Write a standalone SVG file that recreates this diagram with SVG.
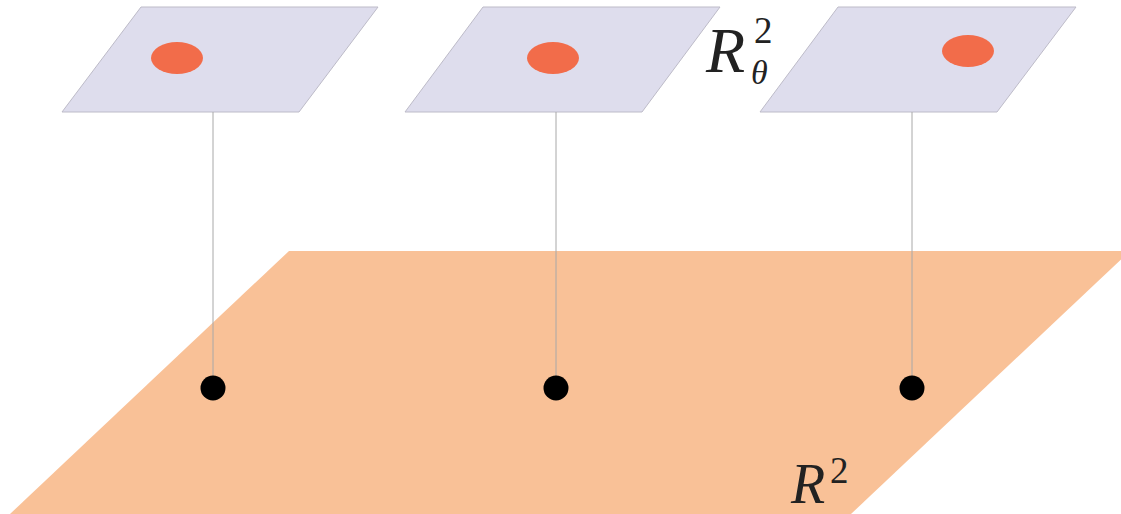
<svg xmlns="http://www.w3.org/2000/svg" width="1121" height="514" viewBox="0 0 1121 514">
<style>
.panel{fill:#dedded;stroke:#bdbbc8;stroke-width:1}
.blob{fill:#f26c4a}
.conn{stroke:#a8a8a8;stroke-width:1;fill:none}
.dot{fill:#000}
.math{font-family:"Liberation Serif",serif;font-style:italic;fill:#222}
.num{font-family:"Liberation Serif",serif;fill:#222}
</style>
<rect width="1121" height="514" fill="#fff"/>
<g id="plane">
<polygon points="289,251 1130,251 851,514 10,514" fill="#f9c197"/>
<text class="math" x="791" y="503" font-size="56">R</text>
<text class="num" x="830" y="483" font-size="37">2</text>
</g>
<g id="panel1">
<polygon class="panel" points="141,7 378,7 299,112 62,112"/>
<ellipse class="blob" cx="177" cy="58" rx="26" ry="16"/>
</g>
<g id="panel2">
<polygon class="panel" points="483,7 720,7 642,112 405,112"/>
<ellipse class="blob" cx="553" cy="58" rx="26" ry="16"/>
</g>
<g id="panel3">
<polygon class="panel" points="838,7 1076,7 997,112 760,112"/>
<ellipse class="blob" cx="968" cy="51" rx="26" ry="16"/>
</g>
<g id="label-theta">
<text class="math" x="706" y="72" font-size="64">R</text>
<text class="num" x="754" y="43" font-size="37">2</text>
<text class="math" x="751" y="84" font-size="34">θ</text>
</g>
<g id="connectors">
<line class="conn" x1="213" y1="112" x2="213" y2="388"/>
<line class="conn" x1="556" y1="112" x2="556" y2="388"/>
<line class="conn" x1="912" y1="112" x2="912" y2="388"/>
</g>
<g id="dot1"><circle class="dot" cx="213" cy="388" r="12.5"/></g>
<g id="dot2"><circle class="dot" cx="556" cy="388" r="12.5"/></g>
<g id="dot3"><circle class="dot" cx="912" cy="388" r="12.5"/></g>
</svg>
